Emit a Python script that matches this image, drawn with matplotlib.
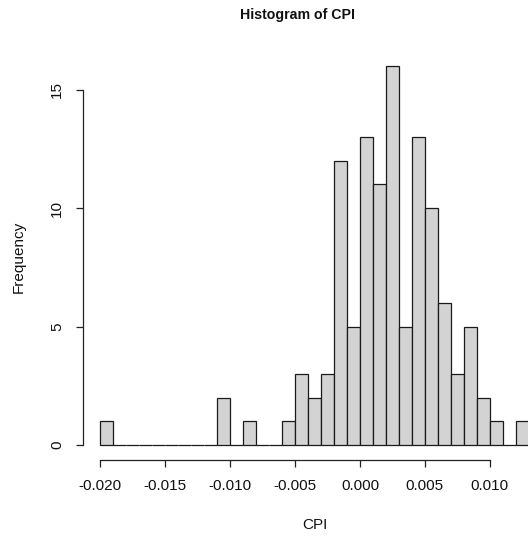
import numpy as np
import matplotlib
matplotlib.use("Agg")
import matplotlib.pyplot as plt

plt.rcParams['font.family'] = ['Liberation Sans', 'DejaVu Sans']

# Histogram bin edges (width 0.001) and the counts in each bin
bin_start = -0.020
bin_width = 0.001
counts = [1, 0, 0, 0, 0, 0, 0, 0, 0, 2, 0, 1, 0, 0, 1,
          3, 2, 3, 12, 5, 13, 11, 16, 5, 13, 10, 6, 3, 5, 2, 1, 0, 1]
edges = np.round(bin_start + bin_width * np.arange(len(counts) + 1), 6)
mids = (edges[:-1] + edges[1:]) / 2

x_ticks = [-0.020, -0.015, -0.010, -0.005, 0.000, 0.005, 0.010]
x_tick_labels = ["-0.020", "-0.015", "-0.010", "-0.005", "0.000", "0.005", "0.010"]
y_ticks = [0, 5, 10, 15]

W, H = 528, 540
fig = plt.figure(figsize=(W / 100, H / 100), dpi=100)

# plot region in pixels (left, top, right, bottom)
L, T, R, B = 83, 51, 546, 460
ax = fig.add_axes([L / W, 1 - B / H, (R - L) / W, (B - T) / H])

ax.hist(mids, bins=edges, weights=counts, color='#d3d3d3',
        edgecolor='#1a1a1a', linewidth=0.9)

span = edges[-1] - edges[0]
ax.set_xlim(edges[0] - 0.04 * span, edges[-1] + 0.04 * span)
ymax = max(counts)
ax.set_ylim(-0.04 * ymax, ymax * 1.04)

for s in ['top', 'right']:
    ax.spines[s].set_visible(False)
ax.spines['bottom'].set_bounds(x_ticks[0], x_ticks[-1])
ax.spines['left'].set_bounds(y_ticks[0], y_ticks[-1])
for s in ['bottom', 'left']:
    ax.spines[s].set_linewidth(0.9)
    ax.spines[s].set_color('#222222')

ax.set_xticks(x_ticks)
ax.set_xticklabels(x_tick_labels)
ax.set_yticks(y_ticks)
ax.set_yticklabels([str(v) for v in y_ticks], rotation=90, va='center')
ax.tick_params(axis='both', length=5, width=0.9, color='#222222',
               labelsize=11, pad=8.5, labelcolor='#111111')

fig.text(297 / W, 1 - 15 / H, "Histogram of CPI", ha='center', va='center',
         fontsize=10.2, fontweight='bold', color='#111111')
fig.text(315 / W, 1 - 525 / H, "CPI", ha='center', va='center',
         fontsize=11, color='#111111')
fig.text(19 / W, 1 - 257 / H, "Frequency", ha='center', va='center',
         rotation=90, fontsize=11, color='#111111')

fig.savefig("out.png", dpi=100)
